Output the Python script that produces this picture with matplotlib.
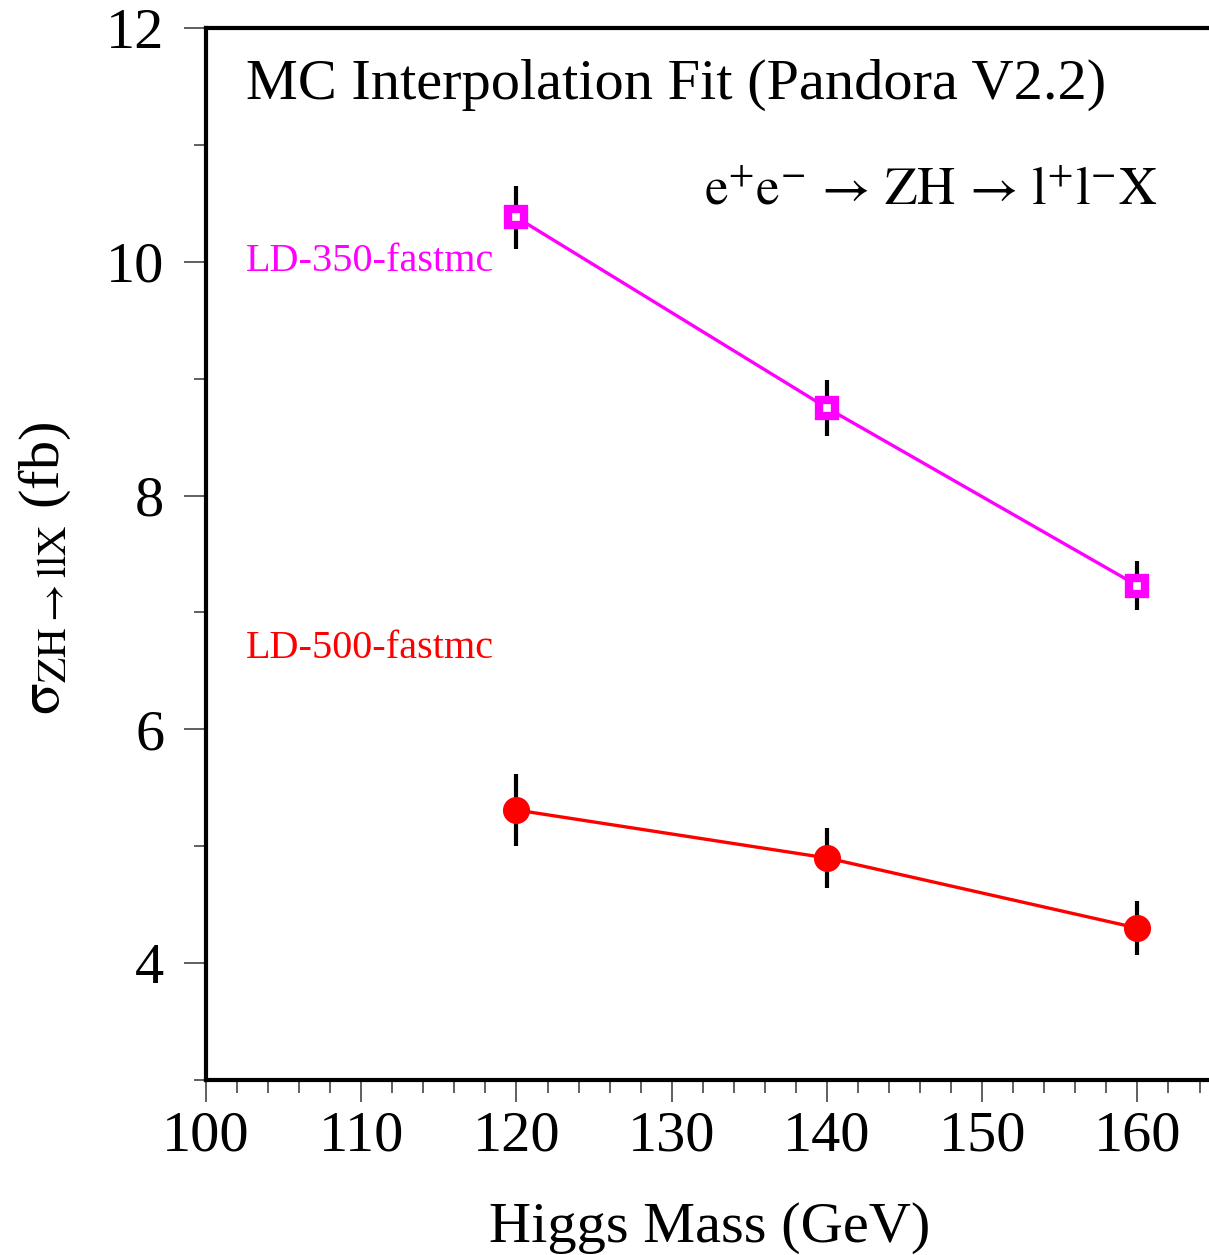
import matplotlib
matplotlib.use("Agg")
import matplotlib.pyplot as plt
from matplotlib.ticker import MultipleLocator

plt.rcParams['font.family'] = ['Liberation Serif', 'DejaVu Serif']
plt.rcParams['mathtext.fontset'] = 'stix'

# data
higgs_mass = [120, 140, 160]
xsec_350 = [10.38, 8.75, 7.23]
err_350 = [0.27, 0.24, 0.21]
xsec_500 = [5.31, 4.90, 4.30]
err_500 = [0.31, 0.26, 0.23]

fig = plt.figure(figsize=(12.09, 12.55), dpi=100)
ax = fig.add_axes([0.1704, 0.1394, 0.8346, 0.8383])

ax.errorbar(higgs_mass, xsec_500, yerr=err_500, fmt='none', ecolor='black',
            elinewidth=3, capsize=0, zorder=2)
ax.plot(higgs_mass, xsec_500, '-', color='red', lw=2.4, zorder=3)
ax.plot(higgs_mass, xsec_500, 'o', color='red', ms=18.5, mec='red', zorder=4)

ax.errorbar(higgs_mass, xsec_350, yerr=err_350, fmt='none', ecolor='black',
            elinewidth=3, capsize=0, zorder=2)
ax.plot(higgs_mass, xsec_350, '-', color='magenta', lw=2.4, zorder=3)
ax.plot(higgs_mass, xsec_350, 's', color='magenta', ms=12, mfc='white',
        mec='magenta', mew=6, zorder=4)

ax.set_xlim(100, 165)
ax.set_ylim(3, 12)
ax.xaxis.set_major_locator(MultipleLocator(10))
ax.xaxis.set_minor_locator(MultipleLocator(2))
ax.yaxis.set_major_locator(MultipleLocator(2))
ax.yaxis.set_minor_locator(MultipleLocator(1))
ax.tick_params(which='major', direction='out', length=16, width=1.2,
               color='#444444', labelsize=42, pad=6)
ax.tick_params(which='minor', direction='out', length=9, width=1.2,
               color='#444444')
ax.tick_params(axis='y', which='major', pad=14)

for side in ['left', 'bottom', 'top', 'right']:
    ax.spines[side].set_linewidth(3)

ax.text(102.6, 11.39, 'MC Interpolation Fit (Pandora V2.2)', fontsize=42,
        va='baseline', ha='left')
ax.text(161.3, 10.49, r'$\mathrm{e^{+}e^{-}\,\rightarrow\,ZH\,\rightarrow\,l^{+}l^{-}X}$',
        fontsize=38, va='baseline', ha='right')
ax.text(102.6, 9.92, 'LD-350-fastmc', fontsize=29, color='magenta',
        va='baseline', ha='left')
ax.text(102.6, 6.61, 'LD-500-fastmc', fontsize=29, color='red',
        va='baseline', ha='left')

fig.text(710 / 1209, 1 - 1242 / 1255, 'Higgs Mass (GeV)', fontsize=42,
         ha='center', va='baseline')
fig.text(45 / 1209, 1 - 568 / 1255, r'$\mathrm{\sigma}_{\mathrm{ZH}\rightarrow\mathrm{llX}}$ (fb)',
         fontsize=42, rotation=90, ha='center', va='center')

fig.savefig('out.png', dpi=100)
